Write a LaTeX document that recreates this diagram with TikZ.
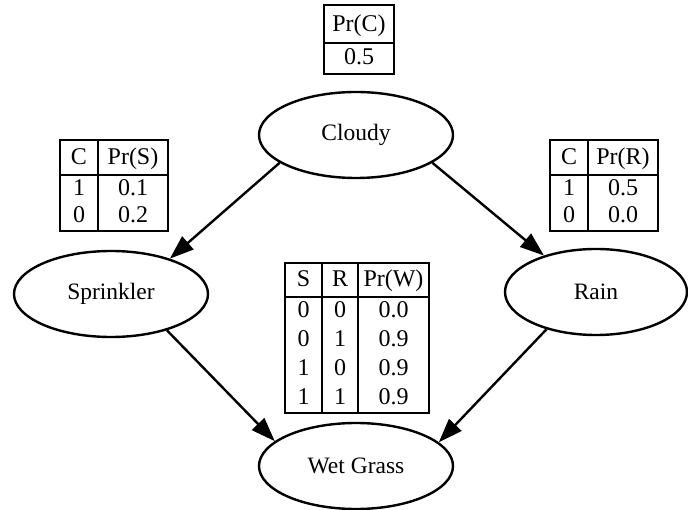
\documentclass[tikz,border=0pt]{standalone}
\usepackage{fontspec}
\setmainfont{Liberation Serif}
\usetikzlibrary{shapes.geometric,arrows.meta}
\begin{document}
\begin{tikzpicture}[x=1pt,y=-1pt,
  var/.style={ellipse,draw,line width=2.4pt,minimum width=194pt,minimum height=86pt,
    inner sep=0pt,font=\fontsize{23.5}{28}\selectfont},
  arr/.style={line width=2.4pt,-{Triangle[length=24pt,width=17pt]}},
  cell/.style={inner sep=0pt,text height=17pt,text depth=4pt,font=\fontsize{24}{28}\selectfont},
  grid/.style={line width=2.6pt}]
\useasboundingbox (0,0) rectangle (688,510);

% network nodes
\node[var] (cloudy) at (356,135) {Cloudy};
\node[var] (sprinkler) at (111,294) {Sprinkler};
\node[var,minimum width=182pt] (rain) at (596,292) {Rain};
\node[var] (wet) at (356,466) {Wet Grass};

% edges
\draw[arr] (cloudy.200) -- (sprinkler.31);
\draw[arr] (cloudy.340) -- (rain.145);
\draw[arr] (sprinkler.327) -- (wet.163);
\draw[arr] (rain.217) -- (wet.16);

% table for Pr(C)
\draw[grid] (324,5) rectangle (394,74);
\draw[grid] (324,43) -- (394,43);
\node[cell] (pc) at (359,25) {Pr(C)};
\node[cell] (pcv) at (359,58) {0.5};

% table for Pr(S)
\draw[grid] (60,140) rectangle (168,231);
\draw[grid] (60,175) -- (168,175);
\draw[grid] (98,140) -- (98,231);
\node[cell] (sc) at (79,158) {C};
\node[cell] (sp) at (133,158) {Pr(S)};
\node[cell] (sc1) at (79,189) {1};
\node[cell] (sp1) at (133,189) {0.1};
\node[cell] (sc0) at (79,216) {0};
\node[cell] (sp0) at (133,216) {0.2};

% table for Pr(R)
\draw[grid] (550,140) rectangle (658,231);
\draw[grid] (550,175) -- (658,175);
\draw[grid] (588,140) -- (588,231);
\node[cell] (rc) at (569,158) {C};
\node[cell] (rp) at (623,158) {Pr(R)};
\node[cell] (rc1) at (569,189) {1};
\node[cell] (rp1) at (623,189) {0.5};
\node[cell] (rc0) at (569,216) {0};
\node[cell] (rp0) at (623,216) {0.0};

% table for Pr(W)
\draw[grid] (285,263) rectangle (429,413);
\draw[grid] (285,297) -- (429,297);
\draw[grid] (322,263) -- (322,413);
\draw[grid] (358,263) -- (358,413);
\node[cell] (ws) at (303.5,280) {S};
\node[cell] (wr) at (340,280) {R};
\node[cell] (wp) at (393.5,280) {Pr(W)};
\foreach \s/\r/\p [count=\i] in {0/0/0.0,0/1/0.9,1/0/0.9,1/1/0.9}{
  \node[cell] (ws\i) at (303.5,282+29*\i) {\s};
  \node[cell] (wr\i) at (340,282+29*\i) {\r};
  \node[cell] (wp\i) at (393.5,282+29*\i) {\p};
}
\end{tikzpicture}
\end{document}
